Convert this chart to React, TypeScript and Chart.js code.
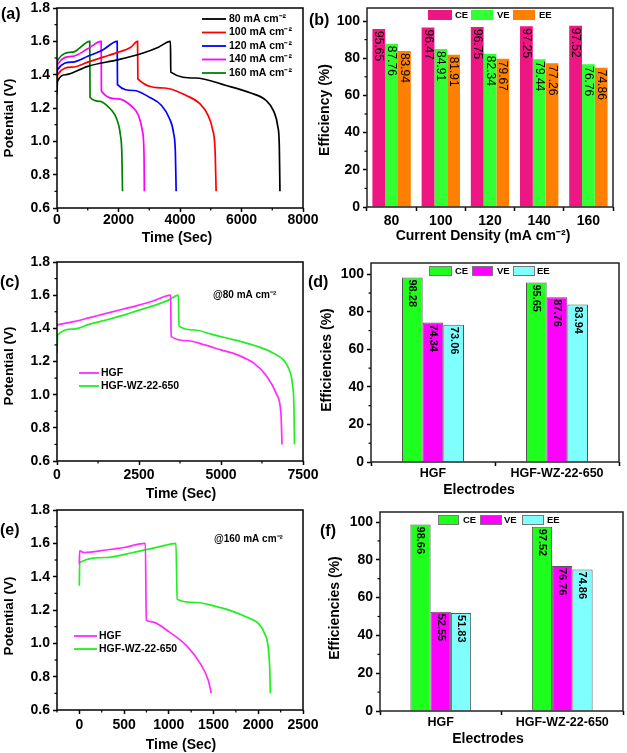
import React, { useEffect, useRef } from 'react';
import { Chart, registerables } from 'chart.js';
Chart.register(...registerables);

const FONT = '"Liberation Sans", Arial, Helvetica, sans-serif';

type Pt = [number, number];

// ---------- tick values ----------
const potTicks = [0.6, 0.8, 1.0, 1.2, 1.4, 1.6, 1.8];
const timeTicksA = [0, 2000, 4000, 6000, 8000];
const timeTicksC = [0, 2500, 5000, 7500];
const timeTicksE = [0, 500, 1000, 1500, 2000, 2500];
const effTicks = [0, 20, 40, 60, 80, 100];

// ---------- Panel (a): charge/discharge at different current densities ----------
const densityLabels = ['80 mA cm⁻²', '100 mA cm⁻²', '120 mA cm⁻²', '140 mA cm⁻²', '160 mA cm⁻²'];
const densityColors = ['#000000', '#FF0000', '#0000FF', '#FF00FF', '#008000'];
const curve80: Pt[] = [[0, 1.30], [15, 1.36], [300, 1.40], [1000, 1.45], [2000, 1.49], [2800, 1.53], [3300, 1.565], [3690, 1.60], [3700, 1.415], [4500, 1.38], [5500, 1.335], [6300, 1.29], [6800, 1.245], [7050, 1.18], [7180, 1.09], [7230, 0.97], [7250, 0.70]];
const curve100: Pt[] = [[0, 1.28], [15, 1.40], [500, 1.445], [1000, 1.475], [1500, 1.505], [2000, 1.535], [2400, 1.565], [2620, 1.60], [2630, 1.375], [3500, 1.32], [4200, 1.275], [4650, 1.225], [4900, 1.16], [5060, 1.07], [5140, 0.95], [5175, 0.70]];
const curve120: Pt[] = [[0, 1.33], [15, 1.43], [500, 1.475], [1000, 1.51], [1500, 1.55], [1957, 1.60], [1967, 1.34], [2500, 1.305], [3000, 1.265], [3400, 1.215], [3650, 1.14], [3790, 1.05], [3850, 0.93], [3875, 0.70]];
const curve140: Pt[] = [[0, 1.36], [15, 1.46], [500, 1.51], [1000, 1.555], [1435, 1.60], [1445, 1.30], [2000, 1.255], [2400, 1.215], [2650, 1.155], [2780, 1.06], [2830, 0.92], [2840, 0.70]];
const curve160: Pt[] = [[0, 1.38], [15, 1.485], [500, 1.535], [1065, 1.60], [1075, 1.265], [1400, 1.24], [1650, 1.21], [1880, 1.16], [2000, 1.10], [2060, 1.04], [2110, 0.92], [2130, 0.70]];

// ---------- Panel (b): efficiencies vs current density ----------
const densityCats = ['80', '100', '120', '140', '160'];
const effCE = [95.65, 96.47, 96.75, 97.25, 97.52];
const effVE = [87.76, 84.91, 82.34, 79.44, 76.76];
const effEE = [83.94, 81.91, 79.67, 77.26, 74.86];

// ---------- Panel (c): @80 mA cm-2 ----------
const electrodeNames = ['HGF', 'HGF-WZ-22-650'];
const cHGF: Pt[] = [[0, 1.42], [500, 1.44], [1000, 1.465], [1500, 1.49], [2000, 1.515], [2500, 1.54], [3000, 1.57], [3465, 1.60], [3480, 1.35], [4000, 1.325], [4500, 1.30], [5000, 1.27], [5500, 1.24], [6000, 1.19], [6400, 1.11], [6700, 1.00], [6830, 0.88], [6860, 0.70]];
const cWZ: Pt[] = [[0, 1.25], [20, 1.36], [500, 1.395], [1000, 1.425], [1500, 1.45], [2000, 1.478], [2500, 1.51], [3000, 1.54], [3400, 1.57], [3700, 1.60], [3720, 1.413], [4200, 1.39], [4700, 1.365], [5200, 1.34], [5700, 1.315], [6200, 1.285], [6600, 1.25], [6900, 1.21], [7080, 1.15], [7180, 1.06], [7225, 0.92], [7240, 0.70]];

// ---------- Panel (d): efficiencies @80 ----------
const d80CE = [98.28, 95.65];
const d80VE = [74.34, 87.76];
const d80EE = [73.06, 83.94];

// ---------- Panel (e): @160 mA cm-2 ----------
const eHGF: Pt[] = [[0, 1.475], [3, 1.555], [50, 1.545], [300, 1.56], [500, 1.575], [738, 1.60], [748, 1.14], [800, 1.13], [1000, 1.07], [1200, 0.985], [1350, 0.88], [1440, 0.78], [1475, 0.70]];
const eWZ: Pt[] = [[0, 1.345], [3, 1.485], [300, 1.515], [600, 1.545], [900, 1.58], [1080, 1.60], [1093, 1.265], [1300, 1.245], [1500, 1.225], [1700, 1.195], [1900, 1.15], [2000, 1.12], [2070, 1.06], [2110, 0.98], [2128, 0.85], [2135, 0.70]];

// ---------- Panel (f): efficiencies @160 ----------
const f160CE = [98.66, 97.52];
const f160VE = [52.55, 76.76];
const f160EE = [51.83, 74.86];

const effNames = ['CE', 'VE', 'EE'];

// ---------- layout helpers ----------
const PADT = 25;
const PADR = 35;

interface Geo { pl: number; pt: number; pr: number; pb: number; cl: number; cb: number }
interface Txt { t: string; x: number; y: number; size: number; bold?: boolean; rot?: number; align?: CanvasTextAlign }
interface LLine { x1: number; x2: number; y: number; color: string }
interface LBox { x: number; y: number; w: number; h: number; fill: string; stroke?: string }
interface Decor {
  frame: string;
  minorX?: boolean;
  minorY?: boolean;
  texts: Txt[];
  lines?: LLine[];
  boxes?: LBox[];
  barLabels?: { size: number; bold: boolean };
}

function rectOf(g: Geo) {
  const top = g.pt - PADT;
  const right = g.pr + PADR;
  return { left: g.cl, top, width: right - g.cl, height: g.cb - top };
}

function makeDecor(g: Geo, d: Decor) {
  const r = rectOf(g);
  const ox = r.left;
  const oy = r.top;
  const drawMinor = (chart: any, id: string) => {
    const sc = chart.scales[id];
    const vals: number[] = sc.ticks.map((t: any) => t.value);
    if (vals.length < 2) return;
    const step = vals[1] - vals[0];
    const mins: number[] = [];
    for (let i = 0; i < vals.length - 1; i++) mins.push((vals[i] + vals[i + 1]) / 2);
    mins.push(vals[0] - step / 2, vals[vals.length - 1] + step / 2);
    const ctx = chart.ctx;
    const ca = chart.chartArea;
    ctx.save();
    ctx.strokeStyle = '#000';
    ctx.lineWidth = 1.2;
    for (const v of mins) {
      if (v < sc.min - 1e-9 || v > sc.max + 1e-9) continue;
      const p = sc.getPixelForValue(v);
      ctx.beginPath();
      if (id === 'x') { ctx.moveTo(p, ca.bottom); ctx.lineTo(p, ca.bottom + 2.5); }
      else { ctx.moveTo(ca.left, p); ctx.lineTo(ca.left - 2.5, p); }
      ctx.stroke();
    }
    ctx.restore();
  };
  return {
    id: 'decor',
    afterDatasetsDraw(chart: any) {
      if (!d.barLabels) return;
      const ctx = chart.ctx;
      ctx.save();
      ctx.fillStyle = '#000';
      ctx.font = `${d.barLabels.bold ? 'bold ' : ''}${d.barLabels.size}px ${FONT}`;
      ctx.textAlign = 'left';
      ctx.textBaseline = 'middle';
      chart.data.datasets.forEach((ds: any, i: number) => {
        const meta = chart.getDatasetMeta(i);
        meta.data.forEach((el: any, j: number) => {
          ctx.save();
          ctx.translate(el.x, el.y + 2);
          ctx.rotate(Math.PI / 2);
          ctx.fillText(Number(ds.data[j]).toFixed(2), 0, 0);
          ctx.restore();
        });
      });
      ctx.restore();
    },
    afterDraw(chart: any) {
      const ctx = chart.ctx;
      const ca = chart.chartArea;
      ctx.save();
      ctx.strokeStyle = d.frame;
      ctx.lineWidth = 1.5;
      ctx.strokeRect(ca.left, ca.top, ca.right - ca.left, ca.bottom - ca.top);
      ctx.restore();
      if (d.minorX) drawMinor(chart, 'x');
      if (d.minorY) drawMinor(chart, 'y');
      ctx.save();
      for (const l of d.lines || []) {
        ctx.strokeStyle = l.color;
        ctx.lineWidth = 1.8;
        ctx.beginPath();
        ctx.moveTo(l.x1 - ox, l.y - oy);
        ctx.lineTo(l.x2 - ox, l.y - oy);
        ctx.stroke();
      }
      for (const b of d.boxes || []) {
        ctx.fillStyle = b.fill;
        ctx.fillRect(b.x - ox, b.y - oy, b.w, b.h);
        if (b.stroke) {
          ctx.strokeStyle = b.stroke;
          ctx.lineWidth = 1;
          ctx.strokeRect(b.x - ox + 0.5, b.y - oy + 0.5, b.w - 1, b.h - 1);
        }
      }
      ctx.fillStyle = '#000';
      for (const t of d.texts) {
        ctx.save();
        ctx.font = `${t.bold === false ? '' : 'bold '}${t.size}px ${FONT}`;
        ctx.textAlign = t.align || 'left';
        ctx.textBaseline = 'middle';
        ctx.translate(t.x - ox, t.y - oy);
        if (t.rot) ctx.rotate(t.rot);
        ctx.fillText(t.t, 0, 0);
        ctx.restore();
      }
      ctx.restore();
    },
  };
}

const tickFont = (s: number) => ({ family: FONT, size: s, weight: 'bold' as const });

function linAxis(size: number, isY: boolean, min: number, max: number, tickVals: number[], fmt: (v: number) => string, pad: number, labelSize = 14) {
  return {
    type: 'linear' as const,
    min,
    max,
    afterFit: (s: any) => { if (isY) s.width = size; else s.height = size; },
    afterBuildTicks: (s: any) => { s.ticks = tickVals.map((v) => ({ value: v })); },
    border: { display: false },
    grid: { display: true, drawOnChartArea: false, drawTicks: true, tickLength: 4, tickColor: '#000', tickWidth: 1.5 },
    ticks: { color: '#000', font: tickFont(labelSize), padding: pad, maxRotation: 0, autoSkip: false, callback: (v: any) => fmt(Number(v)) },
    title: { display: false },
  };
}

function catAxis(size: number, pad: number, labelSize: number) {
  return {
    type: 'category' as const,
    afterFit: (s: any) => { s.height = size; },
    border: { display: false },
    grid: { display: true, offset: true, drawOnChartArea: false, drawTicks: true, tickLength: 4, tickColor: '#000', tickWidth: 1.5 },
    ticks: { color: '#000', font: tickFont(labelSize), padding: pad, maxRotation: 0, autoSkip: false },
    title: { display: false },
  };
}

const baseOpts = () => ({
  responsive: false,
  animation: false as const,
  devicePixelRatio: 1,
  events: [] as any[],
  layout: { padding: { left: 0, top: PADT, right: PADR, bottom: 0 } },
  plugins: { legend: { display: false }, tooltip: { enabled: false } },
});

const lineDs = (pts: Pt[], color: string) => ({
  data: pts.map(([x, y]) => ({ x, y })),
  borderColor: color,
  backgroundColor: color,
  borderWidth: 1.7,
  pointRadius: 0,
  fill: false,
  cubicInterpolationMode: 'monotone' as const,
});

const f1 = (v: number) => v.toFixed(1);
const f0 = (v: number) => String(Math.round(v));

interface Spec { g: Geo; build: () => any }

// ---------- panel geometry ----------
const geoA: Geo = { pl: 57, pt: 8, pr: 303, pb: 208, cl: 0, cb: 250 };
const geoB: Geo = { pl: 367, pt: 8, pr: 613, pb: 207, cl: 305, cb: 248 };
const geoC: Geo = { pl: 57, pt: 262, pr: 303, pb: 461, cl: 0, cb: 506 };
const geoD: Geo = { pl: 371, pt: 263, pr: 619, pb: 462, cl: 304, cb: 502 };
const geoE: Geo = { pl: 57, pt: 510, pr: 303, pb: 710, cl: 0, cb: 753 };
const geoF: Geo = { pl: 380, pt: 512, pr: 623, pb: 711, cl: 315, cb: 753 };

const potTitle = 'Potential (V)';
const timeTitle = 'Time (Sec)';

const specA: Spec = {
  g: geoA,
  build: () => {
    const curves = [curve80, curve100, curve120, curve140, curve160];
    const rows = [19, 32.5, 46, 59.5, 73];
    return {
      type: 'line',
      data: { datasets: curves.map((c, i) => lineDs(c, densityColors[i])) },
      options: {
        ...baseOpts(),
        scales: {
          x: linAxis(geoA.cb - geoA.pb, false, 0, 8000, timeTicksA, f0, 0),
          y: linAxis(geoA.pl - geoA.cl, true, 0.6, 1.8, potTicks, f1, 3),
        },
      },
      plugins: [makeDecor(geoA, {
        frame: '#000', minorX: true, minorY: true,
        lines: rows.map((y, i) => ({ x1: 202, x2: 226, y, color: densityColors[i] })),
        texts: [
          ...rows.map((y, i) => ({ t: densityLabels[i], x: 229, y, size: 10.5 })),
          { t: '(a)', x: 1, y: 15, size: 16 },
          { t: potTitle, x: 9, y: 118, size: 13.5, rot: -Math.PI / 2, align: 'center' as const },
          { t: timeTitle, x: 177, y: 238, size: 14, align: 'center' as const },
        ],
      })],
    };
  },
};

const specB: Spec = {
  g: geoB,
  build: () => {
    const cols = ['#EE1682', '#33FF33', '#FF8000'];
    const vals = [effCE, effVE, effEE];
    return {
      type: 'bar',
      data: {
        labels: densityCats,
        datasets: vals.map((v, i) => ({ data: v, backgroundColor: cols[i], borderWidth: 0, categoryPercentage: 0.78, barPercentage: 1 })),
      },
      options: {
        ...baseOpts(),
        scales: {
          x: catAxis(geoB.cb - geoB.pb, 2, 14),
          y: linAxis(geoB.pl - geoB.cl, true, 0, 107, effTicks, f0, 3),
        },
      },
      plugins: [makeDecor(geoB, {
        frame: '#222', minorY: true,
        barLabels: { size: 12, bold: false },
        boxes: [
          { x: 428, y: 10, w: 24, h: 10, fill: cols[0] },
          { x: 471, y: 10, w: 22, h: 10, fill: cols[1] },
          { x: 513, y: 10, w: 22, h: 10, fill: cols[2] },
        ],
        texts: [
          { t: effNames[0], x: 455, y: 15.5, size: 9.5 },
          { t: effNames[1], x: 497, y: 15.5, size: 9.5 },
          { t: effNames[2], x: 539, y: 15.5, size: 9.5 },
          { t: '(b)', x: 309, y: 21, size: 16 },
          { t: 'Efficiency (%)', x: 325, y: 110, size: 14, rot: -Math.PI / 2, align: 'center' as const },
          { t: 'Current Density (mA cm⁻²)', x: 483, y: 236, size: 14, align: 'center' as const },
        ],
      })],
    };
  },
};

function lineCompare(g: Geo, hgf: Pt[], wz: Pt[], xmin: number, xmax: number, xticks: number[], label: string, note: string, legendX1: number, legendX2: number, legendY: number[], noteX: number, noteY: number, yTitleY: number, xTitleY: number, xPad: number) {
  const colors = ['#FF2BFF', '#22EE22'];
  return {
    type: 'line',
    data: { datasets: [lineDs(hgf, colors[0]), lineDs(wz, colors[1])] },
    options: {
      ...baseOpts(),
      scales: {
        x: linAxis(g.cb - g.pb, false, xmin, xmax, xticks, f0, xPad),
        y: linAxis(g.pl - g.cl, true, 0.6, 1.8, potTicks, f1, 3),
      },
    },
    plugins: [makeDecor(g, {
      frame: '#000', minorX: true, minorY: true,
      lines: legendY.map((y, i) => ({ x1: legendX1, x2: legendX2, y, color: colors[i] })),
      texts: [
        ...legendY.map((y, i) => ({ t: electrodeNames[i], x: legendX2 + 2, y, size: 10.5 })),
        { t: note, x: noteX, y: noteY, size: 10 },
        { t: label, x: 0, y: g.pt + 21, size: 16 },
        { t: potTitle, x: 9, y: yTitleY, size: 13.5, rot: -Math.PI / 2, align: 'center' as const },
        { t: timeTitle, x: 181, y: xTitleY, size: 14, align: 'center' as const },
      ],
    })],
  };
}

const specC: Spec = {
  g: geoC,
  build: () => lineCompare(geoC, cHGF, cWZ, 0, 7500, timeTicksC, '(c)', '@80 mA cm⁻²', 79, 99, [373, 386], 213, 295, 366, 494, 1.5),
};

const specE: Spec = {
  g: geoE,
  build: () => lineCompare(geoE, eHGF, eWZ, -250, 2500, timeTicksE, '(e)', '@160 mA cm⁻²', 74, 97, [636, 649], 214, 539, 616, 745, 2.5),
};

function barCompare(g: Geo, ce: number[], ve: number[], ee: number[], label: string, labelX: number, boxes: LBox[], textXs: number[], ty: number, yTitleX: number, yTitleY: number, xTitleX: number, xTitleY: number, ymax: number, xPad: number) {
  const cols = ['#1EFF1E', '#FF00FF', '#80FFFF'];
  const vals = [ce, ve, ee];
  return {
    type: 'bar',
    data: {
      labels: electrodeNames,
      datasets: vals.map((v, i) => ({ data: v, backgroundColor: cols[i], borderColor: '#555', borderWidth: 1, categoryPercentage: 0.5, barPercentage: 1 })),
    },
    options: {
      ...baseOpts(),
      scales: {
        x: catAxis(g.cb - g.pb, xPad, 12.5),
        y: linAxis(g.pl - g.cl, true, 0, ymax, effTicks, f0, 3),
      },
    },
    plugins: [makeDecor(g, {
      frame: '#222', minorY: true,
      barLabels: { size: 11, bold: true },
      boxes: boxes.map((b, i) => ({ ...b, fill: cols[i], stroke: '#777' })),
      texts: [
        ...textXs.map((x, i) => ({ t: effNames[i], x, y: ty, size: 9.5 })),
        { t: label, x: labelX, y: g.pt + 20, size: 16 },
        { t: 'Efficiencies (%)', x: yTitleX, y: yTitleY, size: 14, rot: -Math.PI / 2, align: 'center' as const },
        { t: 'Electrodes', x: xTitleX, y: xTitleY, size: 14, align: 'center' as const },
      ],
    })],
  };
}

const specD: Spec = {
  g: geoD,
  build: () => barCompare(geoD, d80CE, d80VE, d80EE, '(d)', 308,
    [{ x: 429, y: 266, w: 23, h: 10, fill: '' }, { x: 472, y: 266, w: 21, h: 10, fill: '' }, { x: 513, y: 266, w: 22, h: 10, fill: '' }],
    [455, 497, 537], 271.5, 327, 360, 479, 490, 106, 0),
};

const specF: Spec = {
  g: geoF,
  build: () => barCompare(geoF, f160CE, f160VE, f160EE, '(f)', 320,
    [{ x: 438, y: 515, w: 21, h: 10, fill: '' }, { x: 480, y: 515, w: 22, h: 10, fill: '' }, { x: 522, y: 515, w: 22, h: 10, fill: '' }],
    [463, 504, 547], 520, 335, 608, 488, 739, 105.3, 0.5),
};

function Panel({ spec }: { spec: Spec }) {
  const ref = useRef<HTMLCanvasElement>(null);
  const r = rectOf(spec.g);
  useEffect(() => {
    const chart = new Chart(ref.current as HTMLCanvasElement, spec.build());
    return () => chart.destroy();
  }, [spec]);
  return (
    <canvas
      ref={ref}
      width={r.width}
      height={r.height}
      style={{ position: 'absolute', left: r.left, top: r.top, width: r.width, height: r.height }}
    />
  );
}

export default function App() {
  const specs = [specA, specB, specC, specD, specE, specF];
  return (
    <div style={{ position: 'absolute', left: 0, top: 0, width: 627, height: 753, overflow: 'hidden', background: '#fff' }}>
      {specs.map((s, i) => <Panel key={i} spec={s} />)}
    </div>
  );
}
